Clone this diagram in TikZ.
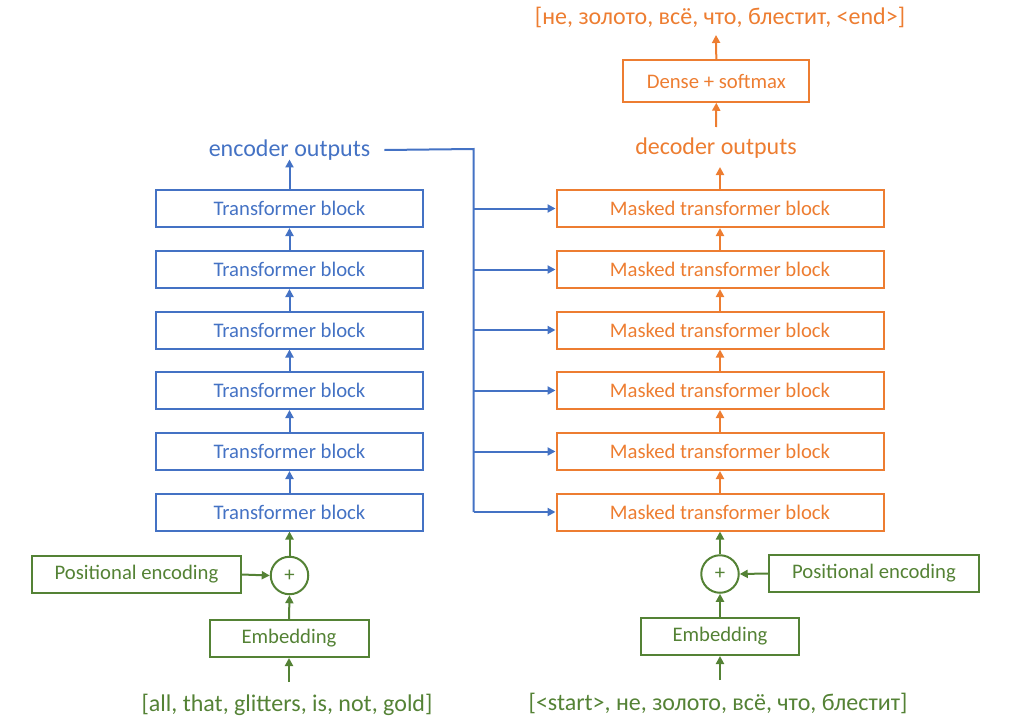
\documentclass[tikz,border=0pt]{standalone}
\usepackage{fontspec}
\setmainfont{Carlito}
\usetikzlibrary{arrows.meta}
\definecolor{cblue}{HTML}{4472C4}
\definecolor{corange}{HTML}{ED7D31}
\definecolor{cgreen}{HTML}{548235}
\begin{document}
\begin{tikzpicture}[x=1pt,y=-1pt,
  box/.style={draw,line width=2pt,inner sep=0pt,minimum height=37pt,font=\fontsize{20.7}{24}\selectfont},
  enc/.style={box,draw=cblue,text=cblue,minimum width=267pt},
  dec/.style={box,draw=corange,text=corange,minimum width=327pt},
  gbox/.style={box,draw=cgreen,text=cgreen},
  lbl/.style={inner sep=0pt,font=\fontsize{24}{28}\selectfont},
  arr/.style={line width=2pt,-{Triangle[length=8pt,width=8pt]}},
]
\useasboundingbox (0,0) rectangle (1009,723);
% encoder
\foreach \i/\y in {1/512,2/451.5,3/390.5,4/330,5/269.5,6/208.5}{
  \node[enc] (e\i) at (289.5,\y) {Transformer block};
  \node[dec] (d\i) at (720,\y) {Masked transformer block};
}
\foreach \i/\j in {1/2,2/3,3/4,4/5,5/6}{
  \draw[arr,cblue] (e\i.north) -- (e\j.south);
  \draw[arr,corange] (d\i.north) -- (d\j.south);
}
\node[lbl,text=cblue] (eo) at (289.5,150) {encoder outputs};
\draw[arr,cblue] (e6.north) -- ([yshift=1pt]eo.south -| e6.north);
\node[lbl,text=corange] (do) at (716,148) {decoder outputs};
\draw[arr,corange] (d6.north) -- (720,167);
\node[box,draw=corange,text=corange,minimum width=186pt,minimum height=41.5pt] (ds) at (716.3,81) {Dense + softmax};
\coordinate (doTop) at (716,127);
\draw[arr,corange] (doTop) -- (ds.south);
\node[lbl,text=corange] (out) at (720,17) {[не, золото, всё, что, блестит, <end>]};
\coordinate (outB) at (716,35);
\draw[arr,corange] (ds.north) -- (outB);
% bus
\coordinate (bus) at (473.5,149);
\coordinate (busEnd) at (473.5,512);
\draw[line width=2pt,cblue] ([xshift=14pt]eo.east) -- (bus) -- (busEnd);
\foreach \i in {1,...,6}{
  \draw[arr,cblue] (bus |- d\i.west) -- (d\i.west);
}
% encoder input
\node[draw=cgreen,line width=2pt,circle,minimum size=37.5pt,inner sep=0pt,text=cgreen,font=\fontsize{20.7}{24}\selectfont] (pl) at (289.5,575.5) {+};
\node[gbox,minimum width=209pt] (pel) at (136.5,574.5) {Positional encoding};
\node[gbox,minimum width=159pt] (eml) at (289,638.5) {Embedding};
\node[lbl,text=cgreen] (inl) at (287,705) {[all, that, glitters, is, not, gold]};
\coordinate (inlT) at (289,682);
\draw[arr,cgreen] (inlT) -- (eml.south);
\draw[arr,cgreen] (eml.north) -- (pl.south);
\draw[arr,cgreen] (pel.east) -- (pl.west);
\draw[arr,cgreen] (pl.north) -- (e1.south);
% decoder input
\node[draw=cgreen,line width=2pt,circle,minimum size=37.5pt,inner sep=0pt,text=cgreen,font=\fontsize{20.7}{24}\selectfont] (pr) at (720,574) {+};
\node[gbox,minimum width=210pt] (per) at (874,573.5) {Positional encoding};
\node[gbox,minimum width=158pt] (emr) at (720,636.5) {Embedding};
\node[lbl,text=cgreen] (inr) at (718,703) {[<start>, не, золото, всё, что, блестит]};
\coordinate (inrT) at (720,680);
\draw[arr,cgreen] (inrT) -- (emr.south);
\draw[arr,cgreen] (emr.north) -- (pr.south);
\draw[arr,cgreen] (per.west) -- (pr.east);
\draw[arr,cgreen] (pr.north) -- (d1.south);
\end{tikzpicture}
\end{document}
